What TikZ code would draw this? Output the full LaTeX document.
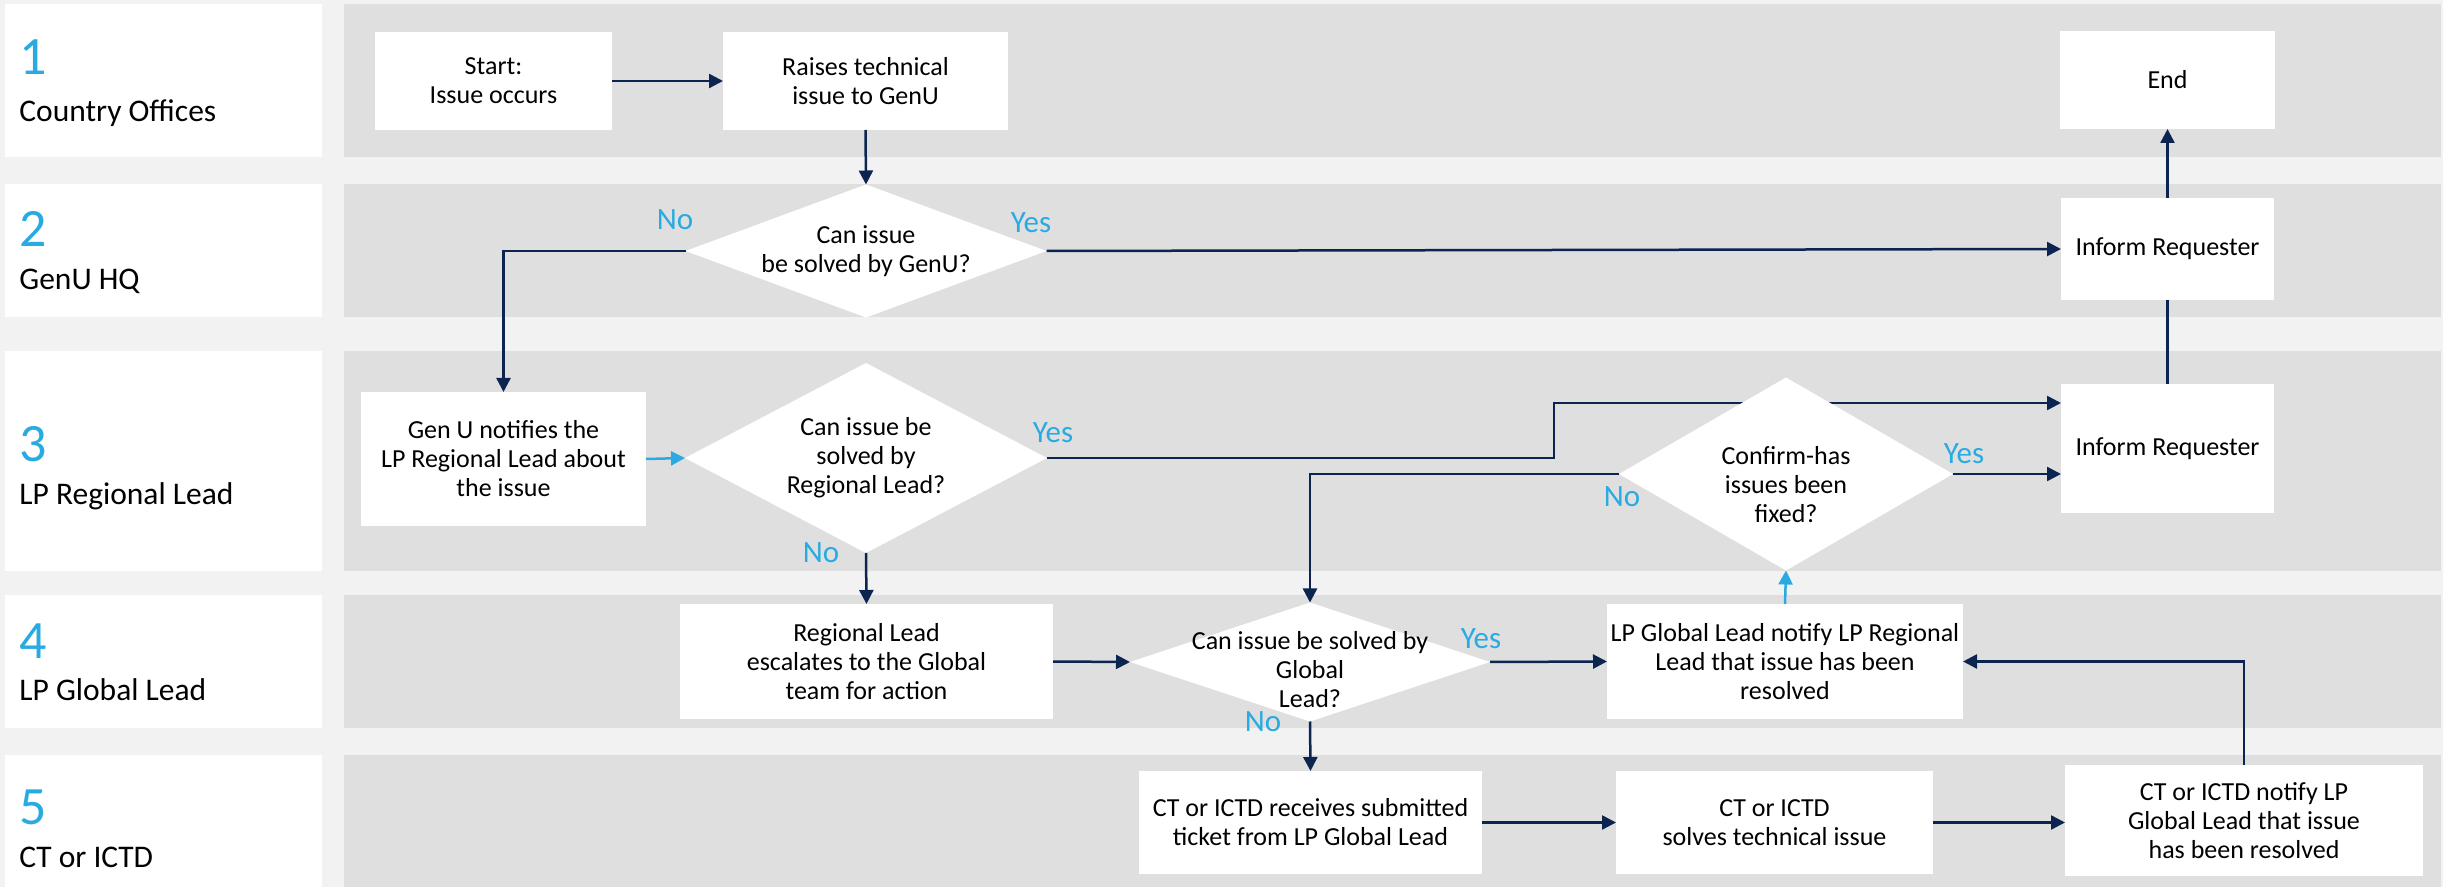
\documentclass[tikz,border=0pt]{standalone}
\usepackage{fontspec}
\setmainfont{Carlito}
\usetikzlibrary{shapes.geometric, arrows.meta}

\definecolor{backgray}{HTML}{F2F2F2}
\definecolor{lanegray}{HTML}{DFDFDF}
\definecolor{navy}{HTML}{0B2550}
\definecolor{skyblue}{HTML}{29ABE2}

\tikzset{
    box/.style={rectangle, fill=white, inner sep=0pt, outer sep=0pt, align=center,
        font=\fontsize{13}{14.5}\selectfont},
    decision/.style={diamond, fill=white, inner sep=0pt, outer sep=0pt},
    question/.style={align=center, inner sep=0pt, font=\fontsize{13}{14.5}\selectfont},
    lanenum/.style={anchor=base west, inner sep=0pt, text=skyblue, font=\fontsize{27}{27}\selectfont},
    lanename/.style={anchor=base west, inner sep=0pt, font=\fontsize{15.75}{16}\selectfont},
    answer/.style={inner sep=0pt, text=skyblue, font=\fontsize{15.5}{16}\selectfont},
    flow/.style={navy, line width=1.25pt, -{Triangle[length=7pt, width=7pt]}},
    flowblue/.style={skyblue, line width=1.25pt, -{Triangle[length=7pt, width=7pt]}}
}

\begin{document}
\begin{tikzpicture}[x=0.5pt, y=-0.5pt]

    % Background and page size (coordinates are in pixels of the chart)
    \fill[backgray] (0,0) rectangle (2443,887);
    \useasboundingbox (0,0) rectangle (2443,887);

    % Swim lanes: grey band and white title box
    \fill[lanegray] (344,4) rectangle (2441,157);
    \fill[lanegray] (344,184) rectangle (2441,317);
    \fill[lanegray] (344,351) rectangle (2441,571);
    \fill[lanegray] (344,595) rectangle (2441,728);
    \fill[lanegray] (344,755) rectangle (2441,887);

    \fill[white] (5,4) rectangle (322,157);
    \fill[white] (5,184) rectangle (322,317);
    \fill[white] (5,351) rectangle (322,571);
    \fill[white] (5,595) rectangle (322,728);
    \fill[white] (5,755) rectangle (322,887);

    % Lane titles
    \node[lanenum] (num1) at (19,75) {1};
    \node[lanename] (name1) at (19,122) {Country Offices};
    \node[lanenum] (num2) at (19,247) {2};
    \node[lanename] (name2) at (19,290) {GenU HQ};
    \node[lanenum] (num3) at (19,462) {3};
    \node[lanename] (name3) at (19,505) {LP Regional Lead};
    \node[lanenum] (num4) at (19,658) {4};
    \node[lanename] (name4) at (19,700) {LP Global Lead};
    \node[lanenum] (num5) at (19,824) {5};
    \node[lanename] (name5) at (19,867) {CT or ICTD};

    % Process boxes
    \node[box, minimum width=118.5pt, minimum height=49pt] (start) at (493.5,81) {Start:\\Issue occurs};
    \node[box, minimum width=142.5pt, minimum height=49pt] (raise) at (865.5,81) {Raises technical\\issue to GenU};
    \node[box, minimum width=107.5pt, minimum height=49pt] (end) at (2167.5,80) {End};
    \node[box, minimum width=106.5pt, minimum height=51pt] (inform2) at (2167.5,249) {Inform Requester};
    \node[box, minimum width=142.5pt, minimum height=67pt] (genu) at (503.5,459) {Gen U notifies the\\LP Regional Lead about\\the issue};
    \node[box, minimum width=106.5pt, minimum height=64.5pt] (inform3) at (2167.5,448.5) {Inform Requester};
    \node[box, minimum width=186.5pt, minimum height=57.5pt] (escalate) at (866.5,661.5) {Regional Lead\\escalates to the Global\\team for action};
    \node[box, minimum width=178pt, minimum height=57.5pt] (globnotify) at (1785,661.5) {LP Global Lead notify LP Regional\\Lead that issue has been\\resolved};
    \node[box, minimum width=171.5pt, minimum height=51.5pt] (receive) at (1310.5,822.5) {CT or ICTD receives submitted\\ticket from LP Global Lead};
    \node[box, minimum width=158.5pt, minimum height=51.5pt] (solve) at (1774.5,822.5) {CT or ICTD\\solves technical issue};
    \node[box, minimum width=179pt, minimum height=55.5pt] (ctnotify) at (2244,820.5) {CT or ICTD notify LP\\Global Lead that issue\\has been resolved};

    % Decisions (text set on top of the empty diamond)
    \node[decision, minimum width=180.5pt, minimum height=66.5pt] (dgenu) at (866,251) {};
    \node[question] (qgenu) at (dgenu) {Can issue\\be solved by GenU?};
    \node[decision, minimum width=181pt, minimum height=95pt] (dregional) at (866,458) {};
    \node[question] (qregional) at (dregional) {Can issue be\\solved by\\Regional Lead?};
    \node[decision, minimum width=180pt, minimum height=59.5pt] (dglobal) at (1310,662) {};
    \node[question, yshift=-4pt] (qglobal) at (dglobal) {Can issue be solved by\\Global\\Lead?};

    % Yes from the regional decision runs behind the confirm diamond
    \coordinate (regyesbend) at (1554,403);
    \draw[flow] (dregional.east) -| (regyesbend) -- (regyesbend -| inform3.west);

    \node[decision, minimum width=167pt, minimum height=96.5pt] (dconfirm) at (1786,474) {};
    \node[question, yshift=-5.5pt] (qconfirm) at (dconfirm) {Confirm-has\\issues been\\fixed?};

    % Connectors
    \draw[flow] (start.east) -- (raise.west);
    \draw[flow] (raise.south) -- (dgenu.north);
    \draw[flow] (dgenu.west) -| (genu.north);
    \draw[flow] (dgenu.east) -- (inform2.west);
    \draw[flow] (inform2.north) -- (end.south);
    \draw[navy, line width=1.25pt] (inform3.north) -- (inform2.south);
    \draw[flowblue] (genu.east) -- (dregional.west);
    \draw[flow] (dregional.south) -- (escalate.north);
    \draw[flow] (escalate.east) -- (dglobal.west);
    \draw[flow] (dglobal.east) -- (globnotify.west);
    \draw[flowblue] (globnotify.north) -- (dconfirm.south);
    \draw[flow] (dconfirm.east) -- (dconfirm.east -| inform3.west);
    \draw[flow] (dconfirm.west) -| (dglobal.north);
    \draw[flow] (dglobal.south) -- (receive.north);
    \draw[flow] (receive.east) -- (solve.west);
    \draw[flow] (solve.east) -- (solve.east -| ctnotify.west);
    \draw[flow] (ctnotify.north) |- (globnotify.east);

    % Yes / No labels
    \node[answer] (genuno) at (675,220) {No};
    \node[answer] (genuyes) at (1031,223) {Yes};
    \node[answer] (regyes) at (1053,433) {Yes};
    \node[answer] (regno) at (821,553) {No};
    \node[answer] (globyes) at (1481,639) {Yes};
    \node[answer] (globno) at (1263,722) {No};
    \node[answer] (confyes) at (1964,454) {Yes};
    \node[answer] (confno) at (1622,497) {No};

\end{tikzpicture}
\end{document}
